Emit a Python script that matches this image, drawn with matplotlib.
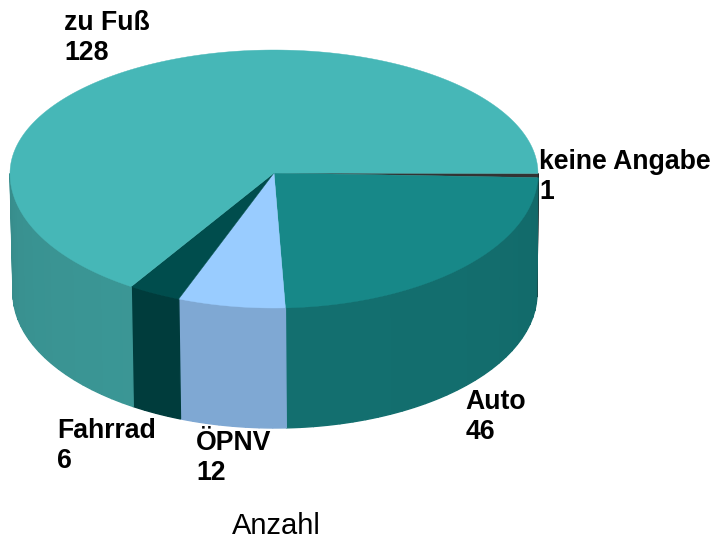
#!/usr/local/bin/python3
import numpy as np
import matplotlib
matplotlib.use("Agg")
import matplotlib.pyplot as plt

# slices in drawing order, clockwise from the right edge
labels = ["keine Angabe", "Auto", "ÖPNV", "Fahrrad", "zu Fuß"]
values = [1, 46, 12, 6, 128]
top_colors = ["#333333", "#178888", "#99ccff", "#004d4d", "#46b7b7"]
side_colors = ["#262626", "#136f6f", "#7fa8d3", "#003c3c", "#3b9796"]
label_pos = [(539, 169), (465.5, 409), (196, 450), (57.5, 438), (64, 30)]
title = "Anzahl"

plt.rcParams['font.family'] = ['Liberation Sans', 'DejaVu Sans']

# top ellipse, lower half is a bit taller because of the perspective
cx, cy, rx = 274, 173.5, 264
ry_up, ry_low = 123.5, 134.5
# floor ellipse
bx, by, brx, bry = 275, 293, 262, 135
# perspective also pulls the slice angles a little
warp = np.radians(1.7)


def top_point(t):
    s = np.sin(t)
    return cx + rx * np.cos(t), cy + np.where(s > 0, ry_low, ry_up) * s


def floor_point(t):
    return bx + brx * np.cos(t), by + bry * np.sin(t)


def shade(col, t):
    # rim gets a little darker towards both ends
    rgb = np.array(matplotlib.colors.to_rgb(col))
    return tuple(rgb * (0.92 + 0.08 * np.sin(t) ** 0.5))


fig = plt.figure(figsize=(7.15, 5.35), dpi=100)
ax = fig.add_axes([0, 0, 1, 1])
ax.set_xlim(0, 715)
ax.set_ylim(535, 0)
ax.axis("off")

edges = np.radians(np.concatenate([[0], np.cumsum(values)]) / sum(values) * 360)
edges = edges - warp * np.sin(2 * edges)

# rim first, only the front half can be seen
for i in range(len(values)):
    t0, t1 = edges[i], min(edges[i + 1], np.pi)
    if t0 >= np.pi:
        continue
    n = max(2, int((t1 - t0) / np.radians(3)) + 1)
    steps = np.linspace(t0, t1, n + 1)
    for a, b in zip(steps[:-1], steps[1:]):
        tt = np.linspace(a, b, 6)
        x1, y1 = top_point(tt)
        x2, y2 = floor_point(tt[::-1])
        c = shade(side_colors[i], (a + b) / 2)
        ax.fill(np.r_[x1, x2], np.r_[y1, y2], color=c, lw=1.0)

# top face
for i in range(len(values)):
    tt = np.linspace(edges[i], edges[i + 1], 200)
    x, y = top_point(tt)
    ax.fill(np.r_[cx, x], np.r_[173, y], color=top_colors[i], lw=0.3)

# labels, name on one line and number below
for name, val, (x, y) in zip(labels, values, label_pos):
    ax.text(x, y, name, fontsize=19.2, fontweight="bold", color="black", va="baseline", ha="left")
    ax.text(x, y + 30, str(val), fontsize=19.2, fontweight="bold", color="black", va="baseline", ha="left")

ax.text(232, 534, title, fontsize=21, color="black", va="baseline", ha="left")

plt.savefig("out.png", dpi=100)
